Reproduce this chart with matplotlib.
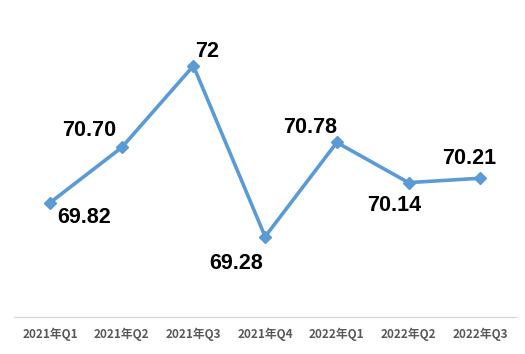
import matplotlib.pyplot as plt

quarters = ["2021年Q1", "2021年Q2", "2021年Q3", "2021年Q4", "2022年Q1", "2022年Q2", "2022年Q3"]
values = [69.82, 70.70, 72, 69.28, 70.78, 70.14, 70.21]
labels = ["69.82", "70.70", "72", "69.28", "70.78", "70.14", "70.21"]
# label offsets in pixels (dx, dy)
offsets = [(34, -15), (-33, 17), (14, 14), (-29, -27), (-27, 15), (-14, -23), (-11, 20)]

fig = plt.figure(figsize=(5.25, 3.54), dpi=100)
ax = fig.add_axes([0.027, 0.1045, 0.956, 0.816])

x = list(range(len(quarters)))
ax.plot(x, values, color="#5B9BD5", linewidth=2.6, marker="D", markersize=6.5,
        markeredgecolor="#5B9BD5", markerfacecolor="#5B9BD5")

for xi, v, lab, (dx, dy) in zip(x, values, labels, offsets):
    ax.annotate(lab, (xi, v), xytext=(dx, dy), textcoords="offset pixels",
                ha="center", va="center", fontsize=15.5, fontweight="bold",
                family="Liberation Sans", color="black")

ax.set_xlim(-0.5, 6.5)
ax.set_ylim(68, 72.6)
ax.set_xticks(x)
ax.set_xticklabels(quarters, family=["Noto Sans CJK SC", "DejaVu Sans"],
                   fontsize=8.5, fontweight="bold", color="#595959")
ax.tick_params(axis="x", length=0, pad=8)
ax.set_yticks([])

for side in ["top", "left", "right"]:
    ax.spines[side].set_visible(False)
ax.spines["bottom"].set_color("#D9D9D9")
ax.spines["bottom"].set_linewidth(1)

fig.savefig("out.png", dpi=100)
